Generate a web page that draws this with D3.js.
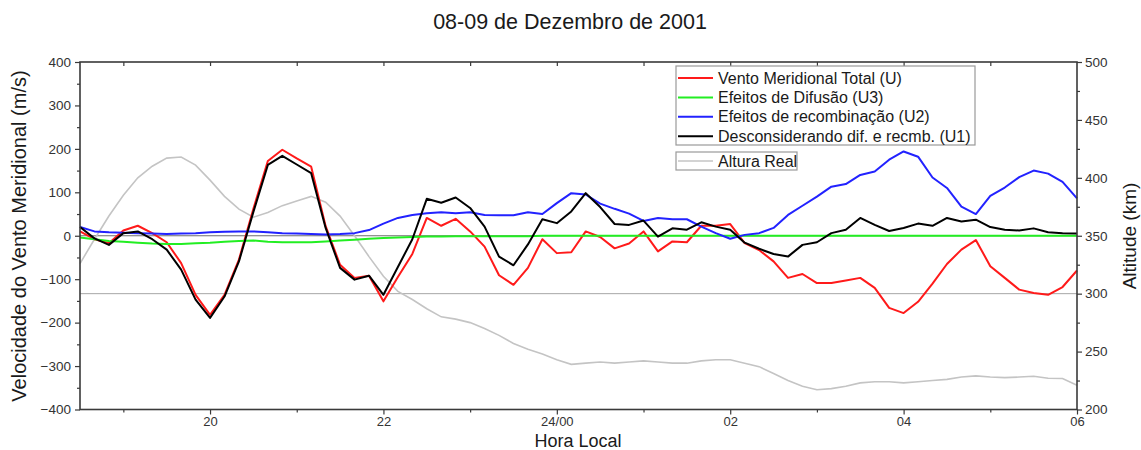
<!DOCTYPE html>
<html>
<head>
<meta charset="utf-8">
<script src="https://cdn.jsdelivr.net/npm/d3@7"></script>
<style>
  html, body { margin: 0; padding: 0; background: #fff; }
  svg { display: block; font-family: "Liberation Sans", Arial, sans-serif; }
</style>
</head>
<body>
<svg id="chart" width="1141" height="450"></svg>
<script>
// Local time samples (10-minute cadence, 18:30 to 06:00 of the next day)
const times = [
  "18:30","18:40","18:50","19:00","19:10","19:20","19:30","19:40","19:50","20:00",
  "20:10","20:20","20:30","20:40","20:50","21:00","21:10","21:20","21:30","21:40",
  "21:50","22:00","22:10","22:20","22:30","22:40","22:50","23:00","23:10","23:20",
  "23:30","23:40","23:50","00:00","00:10","00:20","00:30","00:40","00:50","01:00",
  "01:10","01:20","01:30","01:40","01:50","02:00","02:10","02:20","02:30","02:40",
  "02:50","03:00","03:10","03:20","03:30","03:40","03:50","04:00","04:10","04:20",
  "04:30","04:40","04:50","05:00","05:10","05:20","05:30","05:40","05:50","06:00"
];

// Total meridional wind U (m/s)
const windTotal = [
  10, -8, -17, 12, 23, 6, -15, -63, -136, -182,
  -136, -55, 62, 172, 198, 178, 159, 22, -67, -97,
  -92, -151, -95, -42, 41, 23, 39, 10, -25, -91,
  -113, -74, -8, -40, -38, 10, -3, -29, -18, 10,
  -36, -13, -15, 23, 23, 27, -17, -33, -59, -97,
  -88, -109, -109, -103, -97, -120, -166, -178, -152, -110,
  -65, -32, -10, -70, -97, -124, -132, -136, -118, -80
];

// Diffusion effects U3 (m/s)
const diffusion = [
  -4, -8, -12, -14, -16, -18, -19, -19, -17, -16,
  -14, -12, -11, -14, -15, -15, -15, -13, -11, -9,
  -7, -5, -4, -3, -2, -2, -1, -1, -1, -1,
  -1, -1, 0, 0, 0, 0, 0, 0, 0, 0,
  0, 0, 0, 0, 0, 0, 0, 0, 0, 0,
  0, 0, 0, 0, 0, 0, 0, 0, 0, 0,
  0, 0, 0, 0, 0, 0, 0, 0, 0, 0
];

// Recombination effects U2 (m/s)
const recombination = [
  20, 10, 8, 7, 6, 5, 4, 5, 6, 8,
  9, 10, 10, 8, 6, 5, 4, 3, 4, 6,
  13, 28, 41, 48, 52, 54, 52, 54, 48, 47,
  47, 54, 50, 75, 98, 95, 74, 62, 51, 34,
  41, 38, 38, 21, 6, -7, 2, 6, 18, 48,
  69, 90, 113, 119, 140, 148, 175, 194, 182, 134,
  110, 67, 50, 92, 111, 135, 150, 143, 124, 86
];

// Wind without diffusion and recombination U1 (m/s)
const withoutDifRec = [
  20, -6, -21, 6, 10, -8, -32, -78, -147, -189,
  -140, -59, 55, 163, 184, 164, 144, 18, -74, -101,
  -92, -136, -72, -8, 85, 76, 88, 64, 21, -48,
  -68, -20, 38, 29, 56, 98, 66, 27, 25, 35,
  -2, 17, 14, 31, 21, 14, -16, -30, -42, -48,
  -21, -15, 6, 14, 41, 25, 11, 18, 28, 23,
  41, 33, 37, 20, 14, 12, 17, 8, 6, 5
];

// True layer height (km)
const realHeight = [
  326, 347, 367, 385, 400, 410, 417, 418, 411, 398,
  384, 373, 366, 370, 376, 380, 384, 379, 367, 350,
  332, 315, 302, 295, 287, 280, 278, 275, 270, 264,
  257, 252, 248, 243, 239, 240, 241, 240, 241, 242,
  241, 240, 240, 242, 243, 243, 240, 237, 231, 225,
  220, 217, 218, 220, 223, 224, 224, 223, 224, 225,
  226, 228, 229, 228, 227.5, 228, 228.7, 227, 226.7, 221
];

const xTickValues = [20, 22, 24, 26, 28, 30];
const xTickLabels = ["20", "22", "24/00", "02", "04", "06"];
const leftTicks = [-400, -300, -200, -100, 0, 100, 200, 300, 400];
const rightTicks = [200, 250, 300, 350, 400, 450, 500];
const refHeight = 300;

const legendEntries = [
  { label: "Vento Meridional Total (U)", color: "#ff1a1a" },
  { label: "Efeitos de Difusão (U3)", color: "#22ee22" },
  { label: "Efeitos de recombinação (U2)", color: "#2222ff" },
  { label: "Desconsiderando dif. e recmb. (U1)", color: "#000000" }
];

// Decimal hour, continuing past midnight
const hours = times.map(t => {
  const [h, m] = t.split(":").map(Number);
  return (h < 12 ? h + 24 : h) + m / 60;
});

const svg = d3.select("#chart");
const L = 80, R = 1077, T = 62, B = 409.5;
const axisColor = "#3a3a3a";
const textColor = "#333";

const x = d3.scaleLinear().domain([18.5, 30]).range([L, R]);
const y = d3.scaleLinear().domain([-400, 400]).range([B, T]);
const y2 = d3.scaleLinear().domain([200, 500]).range([B, T]);

// Reference lines: zero wind and 300 km
svg.append("line")
  .attr("x1", L).attr("x2", R).attr("y1", y(0)).attr("y2", y(0))
  .attr("stroke", "#6e6e6e").attr("stroke-width", 1.2);
svg.append("line")
  .attr("x1", L).attr("x2", R).attr("y1", y2(refHeight)).attr("y2", y2(refHeight))
  .attr("stroke", "#a6a6a6").attr("stroke-width", 1);

const lineW = d3.line().x((d, i) => x(hours[i])).y(d => y(d));
const lineH = d3.line().x((d, i) => x(hours[i])).y(d => y2(d));

svg.append("path").datum(realHeight).attr("d", lineH)
  .attr("fill", "none").attr("stroke", "#c4c4c4").attr("stroke-width", 1.6);

const windSeries = [
  { data: windTotal, color: legendEntries[0].color },
  { data: diffusion, color: legendEntries[1].color },
  { data: recombination, color: legendEntries[2].color },
  { data: withoutDifRec, color: legendEntries[3].color }
];
windSeries.forEach(s => {
  svg.append("path").datum(s.data).attr("d", lineW)
    .attr("fill", "none").attr("stroke", s.color)
    .attr("stroke-width", 2).attr("stroke-linejoin", "round");
});

// Axes
function styleAxis(g, size) {
  g.select(".domain").remove();
  g.selectAll("line").attr("stroke", axisColor).attr("stroke-width", 1.2);
  g.selectAll("text").attr("fill", textColor).attr("font-size", size || 13.5)
    .attr("font-family", "Liberation Sans, Arial, sans-serif");
}

// bottom
svg.append("g").attr("transform", `translate(0,${B})`)
  .call(d3.axisBottom(x).tickValues(d3.range(19, 31, 2)).tickSize(3).tickFormat(""))
  .call(styleAxis);
svg.append("g").attr("transform", `translate(0,${B})`)
  .call(d3.axisBottom(x).tickValues(xTickValues).tickSize(5).tickPadding(2)
    .tickFormat((d, i) => xTickLabels[i]))
  .call(g => styleAxis(g, 13));
// top (inward ticks)
svg.append("g").attr("transform", `translate(0,${T})`)
  .call(d3.axisBottom(x).tickValues(d3.range(19, 30, 1)).tickSize(4).tickFormat(""))
  .call(styleAxis);
// left
svg.append("g").attr("transform", `translate(${L},0)`)
  .call(d3.axisLeft(y).tickValues(d3.range(-350, 400, 100)).tickSize(3).tickFormat(""))
  .call(styleAxis);
svg.append("g").attr("transform", `translate(${L},0)`)
  .call(d3.axisLeft(y).tickValues(leftTicks).tickSize(5).tickPadding(4))
  .call(styleAxis);
// right
svg.append("g").attr("transform", `translate(${R},0)`)
  .call(d3.axisRight(y2).tickValues(d3.range(225, 500, 50)).tickSize(3).tickFormat(""))
  .call(styleAxis);
svg.append("g").attr("transform", `translate(${R},0)`)
  .call(d3.axisRight(y2).tickValues(rightTicks).tickSize(5).tickPadding(3))
  .call(styleAxis);

// Frame
svg.append("rect").attr("x", L).attr("y", T).attr("width", R - L).attr("height", B - T)
  .attr("fill", "none").attr("stroke", axisColor).attr("stroke-width", 1.6);

// Titles
svg.append("text").attr("x", 570).attr("y", 29).attr("text-anchor", "middle")
  .attr("font-size", 21.5).attr("fill", "#1a1a1a").text("08-09 de Dezembro de 2001");
svg.append("text").attr("x", 578).attr("y", 447).attr("text-anchor", "middle")
  .attr("font-size", 18).attr("fill", "#1a1a1a").text("Hora Local");
svg.append("text").attr("transform", "translate(26,236) rotate(-90)")
  .attr("text-anchor", "middle").attr("font-size", 20).attr("fill", "#1a1a1a")
  .text("Velocidade do Vento Meridional (m/s)");
svg.append("text").attr("transform", "translate(1136,236) rotate(-90)")
  .attr("text-anchor", "middle").attr("font-size", 19).attr("fill", "#1a1a1a")
  .text("Altitude (km)");

// Legend
const lg = svg.append("g");
lg.append("rect").attr("x", 676).attr("y", 66).attr("width", 299).attr("height", 79)
  .attr("fill", "#fff").attr("stroke", "#9a9a9a").attr("stroke-width", 1.2);
legendEntries.forEach((e, i) => {
  const cy = 78 + i * 19.4;
  lg.append("line").attr("x1", 678).attr("x2", 713).attr("y1", cy).attr("y2", cy)
    .attr("stroke", e.color).attr("stroke-width", 2);
  lg.append("text").attr("x", 718).attr("y", cy + 5.5).attr("font-size", 16)
    .attr("fill", "#1a1a1a").text(e.label);
});
lg.append("rect").attr("x", 676).attr("y", 152).attr("width", 121).attr("height", 18)
  .attr("fill", "#fff").attr("stroke", "#9a9a9a").attr("stroke-width", 1.2);
lg.append("line").attr("x1", 678).attr("x2", 713).attr("y1", 161).attr("y2", 161)
  .attr("stroke", "#c4c4c4").attr("stroke-width", 1.6);
lg.append("text").attr("x", 718).attr("y", 166.5).attr("font-size", 16)
  .attr("fill", "#1a1a1a").text("Altura Real");
</script>
</body>
</html>
